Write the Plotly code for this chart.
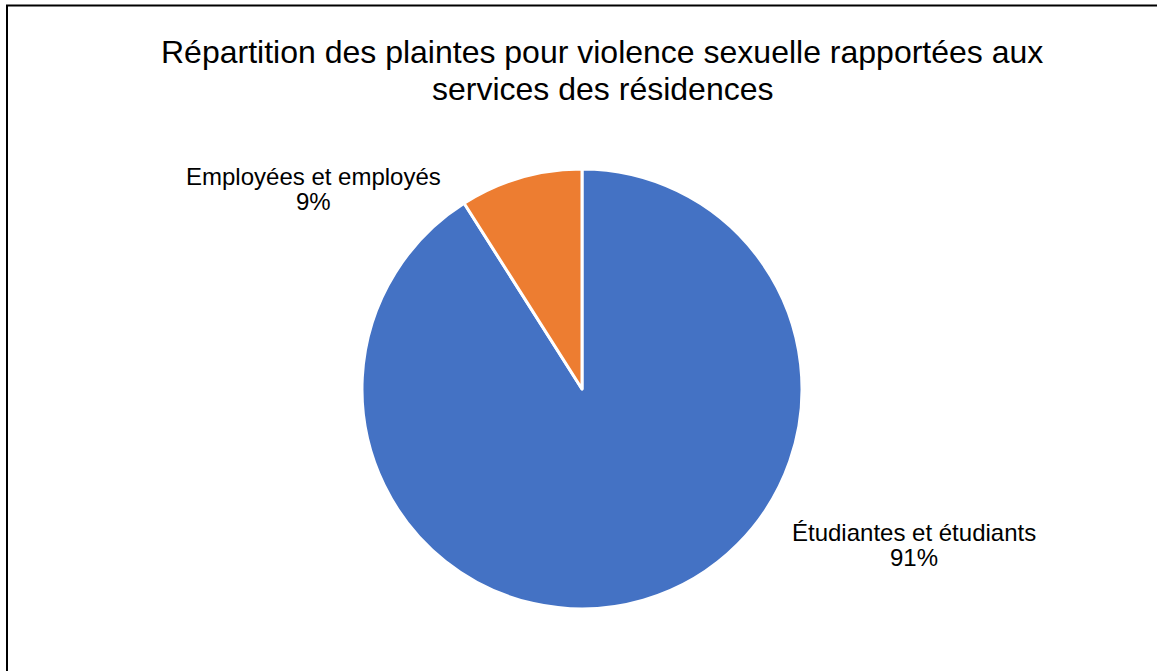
import plotly.graph_objects as go

categories = ["Étudiantes et étudiants", "Employées et employés"]
values = [91, 9]
colors = ["#4472C4", "#ED7D31"]
title_lines = ["Répartition des plaintes pour violence sexuelle rapportées aux",
               "services des résidences"]

W, H = 1157, 671
cx, cy, r = 582, 389, 220
FONT = "Liberation Sans, Arial"

fig = go.Figure(go.Pie(
    labels=categories,
    values=values,
    sort=False,
    direction="clockwise",
    rotation=0,
    marker=dict(colors=colors, line=dict(color="white", width=3)),
    textinfo="none",
    hoverinfo="label+percent",
    showlegend=False,
    domain=dict(x=[(cx - r) / W, (cx + r) / W], y=[(H - cy - r) / H, (H - cy + r) / H]),
))

def ann(text, px, py, size):
    return dict(text=text, x=px / W, y=1 - py / H, xref="paper", yref="paper",
                xanchor="center", yanchor="middle", showarrow=False,
                font=dict(family=FONT, size=size, color="#000000"))

annotations = []
for line, py in zip(title_lines, [52, 89]):
    annotations.append(ann(line, 602, py, 32))

total = sum(values)
label_pos = {"Employées et employés": (313, 177, 201), "Étudiantes et étudiants": (914, 532, 557)}
for cat, v in zip(categories, values):
    px, py1, py2 = label_pos[cat]
    annotations.append(ann(cat, px, py1, 24))
    annotations.append(ann(f"{round(100 * v / total)}%", px, py2, 24))

fig.update_layout(
    width=W, height=H,
    margin=dict(l=0, r=0, t=0, b=0),
    paper_bgcolor="white", plot_bgcolor="white",
    annotations=annotations,
    shapes=[dict(type="rect", xref="paper", yref="paper",
                 x0=7 / W, x1=1.05, y0=-0.05, y1=1 - 5.5 / H,
                 line=dict(color="black", width=2))],
)

fig.write_html("out.html")
